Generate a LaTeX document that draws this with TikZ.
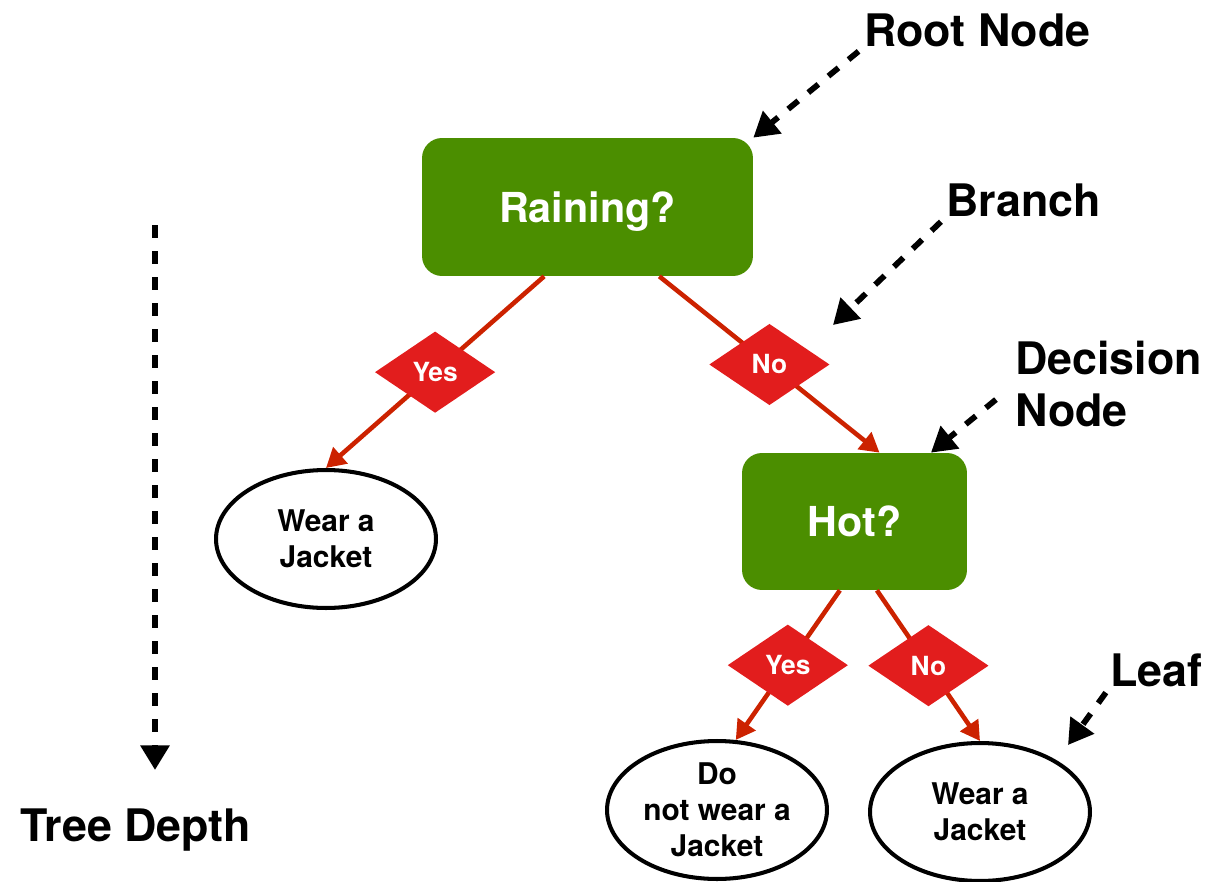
\documentclass[tikz,border=0pt]{standalone}
\usepackage{fontspec}
\setmainfont{TeX Gyre Heros}
\usetikzlibrary{arrows.meta,shapes.geometric}

\definecolor{questiongreen}{HTML}{4B8E00}
\definecolor{choicered}{HTML}{E21D1D}
\definecolor{edgered}{HTML}{CC2200}

\tikzset{
  question/.style={rectangle, rounded corners=0.4cm, fill=questiongreen,
    text=white, text depth=0pt, font=\bfseries\fontsize{23.5}{27}\selectfont},
  choice/.style={diamond, fill=choicered, text=white, inner sep=0pt,
    minimum width=2.44cm, minimum height=1.66cm,
    font=\bfseries\fontsize{15}{18}\selectfont},
  outcome/.style={ellipse, draw, line width=2.3pt, inner sep=0pt,
    minimum width=4.4cm, minimum height=2.76cm, align=center,
    font=\bfseries\fontsize{17}{20.5}\selectfont},
  caption/.style={anchor=west, inner sep=0pt, align=left,
    font=\bfseries\fontsize{25.5}{29.5}\selectfont},
  answer/.style={draw=edgered, line width=2.6pt,
    -{Triangle[length=11pt,width=12pt]}},
  pointer/.style={line width=3.3pt, dash pattern=on 7.4pt off 7.4pt,
    -{Triangle[length=14pt,width=16pt]}}
}

\begin{document}
\begin{tikzpicture}[x=0.02cm, y=-0.02cm]
\useasboundingbox (0,0) rectangle (1228,882);

% decisions
\node[question, minimum width=6.62cm, minimum height=2.76cm] (rain) at (587.5,207) {Raining?};
\node[question, minimum width=4.5cm, minimum height=2.74cm] (hot) at (854.5,521.5) {Hot?};

% leaves
\node[outcome] (wear1) at (326,539) {Wear a\\Jacket};
\node[outcome] (donot) at (717,810) {Do\\not wear a\\Jacket};
\node[outcome] (wear2) at (980,812) {Wear a\\Jacket};

% branches
\draw[answer] (rain.238) -- node[choice] {Yes} (wear1.north);
\draw[answer] (rain.316) -- node[choice] {No} (hot.70);
\draw[answer] (hot.258) -- node[choice] {Yes} (donot.75);
\draw[answer] (hot.288) -- node[choice] {No} (wear2.north);

% captions
\node[caption] (rootlbl) at (864,30) {Root Node};
\node[caption] (branchlbl) at (946,200) {Branch};
\node[caption] (declbl) at (1015,384) {Decision\\Node};
\node[caption] (leaflbl) at (1110,670) {Leaf};
\node[caption] (depthlbl) at (20,830) {Tree Depth};

\coordinate (branchtip) at (833,325);
\coordinate (leaftip) at (1068,745);
\coordinate (depthtop) at (155,225);
\coordinate (depthend) at (155,770);

% pointers
\draw[pointer, shorten <=4pt] (rootlbl.south west) -- (rain.north east);
\draw[pointer, shorten <=4pt] (branchlbl.south west) -- (branchtip);
\draw[pointer, shorten <=14pt] (declbl.west) -- (hot.42);
\draw[pointer, shorten <=4pt] (leaflbl.south west) -- (leaftip);
\draw[pointer] (depthtop) -- (depthend);
\end{tikzpicture}
\end{document}
